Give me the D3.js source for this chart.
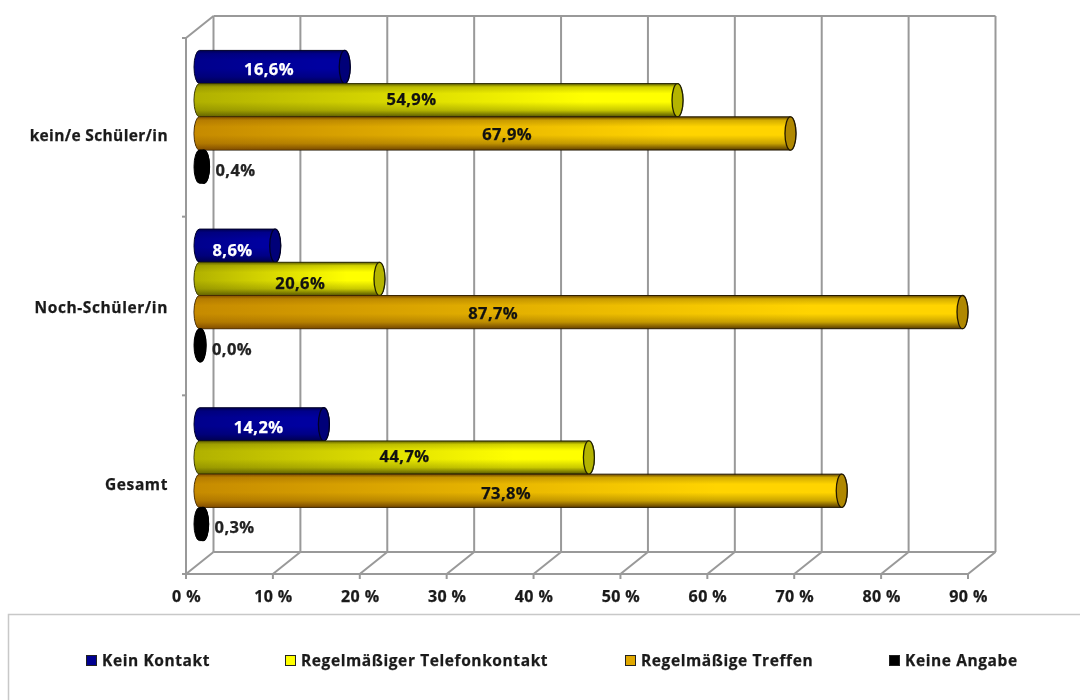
<!DOCTYPE html>
<html><head><meta charset="utf-8">
<script src="https://cdn.jsdelivr.net/npm/d3@7"></script>
<style>html,body{margin:0;padding:0;background:#fff}svg{display:block;filter:blur(0.4px)}
text{font-family:"Open Sans",sans-serif;font-weight:700;stroke-width:0.25px;paint-order:stroke}</style></head><body>
<svg id="c" width="1080" height="700"></svg>
<script>
const categories = ["kein/e Schüler/in","Noch-Schüler/in","Gesamt"];
const seriesNames = ["Kein Kontakt","Regelmäßiger Telefonkontakt","Regelmäßige Treffen","Keine Angabe"];
const keinKontakt = [16.6,8.6,14.2];
const telefon = [54.9,20.6,44.7];
const treffen = [67.9,87.7,73.8];
const keineAngabe = [0.4,0.0,0.3];
const seriesValues = [keinKontakt,telefon,treffen,keineAngabe];
const xTicks = [0,10,20,30,40,50,60,70,80,90];
// where each bar's label sits along the bar, in axis units
const labelAnchorKein = [8.0,3.8,6.8];
const labelAnchorTelefon = [24.4,11.6,23.6];
const labelAnchorTreffen = [35.4,33.8,35.3];
const labelAnchors = [labelAnchorKein,labelAnchorTelefon,labelAnchorTreffen];
const seriesColors = [
 {dark:"#000048",mid:"#0000a0",cap:"#000078",swatch:"#000090",text:"#fff",stroke:"#000028",shade:"#000050",shadeOp:0.25},
 {dark:"#4a4a00",mid:"#ffff00",cap:"#b4b400",swatch:"#ffff00",text:"#111",stroke:"#222200",shade:"#707000",shadeOp:0.55},
 {dark:"#4f3300",mid:"#ffd400",cap:"#b08800",swatch:"#e0a800",text:"#111",stroke:"#221800",shade:"#a05a00",shadeOp:0.6},
 {dark:"#000",mid:"#000",cap:"#000",swatch:"#000",text:"#222",stroke:"#000",shade:"#000",shadeOp:0}
];
const legendX = [86,285,625,889];
const labelDy = [[2,-1,1.5,3.5],[4.5,5,1,4.5],[3.5,-1.5,2.5,3.5]];
const categoryDy = [19,12,11];

const svg = d3.select("#c");
const x = d3.scaleLinear().domain([0,90]).range([186,968]);
const depthX = 27.5, depthY = -22;
const yOuter = d3.scaleBand().domain(categories).range([38,574]);
const yBand = d3.scaleBand().domain(categories).range([27.5,563.5]);
const yInner = d3.scaleBand().domain(d3.range(4)).range([0,yBand.bandwidth()]).paddingOuter(0.69).paddingInner(0);
const grid="#999";

const defs = svg.append("defs");
seriesColors.forEach((c,i)=>{
  const g = defs.append("linearGradient").attr("id","g"+i).attr("x1",0).attr("x2",0).attr("y1",0).attr("y2",1);
  const mix=t=>d3.interpolateRgb(c.dark,c.mid)(t);
  [[0,mix(0.1)],[0.1,mix(0.75)],[0.3,c.mid],[0.55,c.mid],[0.8,mix(0.7)],[1,mix(0.05)]]
    .forEach(s=>g.append("stop").attr("offset",s[0]).attr("stop-color",s[1]));
  const h = defs.append("linearGradient").attr("id","h"+i).attr("x1",0).attr("x2",1).attr("y1",0).attr("y2",0);
  h.append("stop").attr("offset",0).attr("stop-color",c.shade).attr("stop-opacity",c.shadeOp);
  h.append("stop").attr("offset",0.8).attr("stop-color",c.shade).attr("stop-opacity",0);
});

const wall = svg.append("g").attr("fill","none").attr("stroke",grid).attr("stroke-width",2);
const yTop = yOuter.range()[0], yBot = yOuter.range()[1];
xTicks.forEach(t=>{
  wall.append("line").attr("x1",x(t)+depthX).attr("x2",x(t)+depthX).attr("y1",yTop+depthY).attr("y2",yBot+depthY);
  wall.append("line").attr("x1",x(t)).attr("x2",x(t)+depthX).attr("y1",yBot).attr("y2",yBot+depthY);
  wall.append("line").attr("x1",x(t)).attr("x2",x(t)).attr("y1",yBot).attr("y2",yBot+5);
});
wall.append("line").attr("x1",x(0)+depthX).attr("x2",x(90)+depthX).attr("y1",yTop+depthY).attr("y2",yTop+depthY);
wall.append("line").attr("x1",x(0)+depthX).attr("x2",x(90)+depthX).attr("y1",yBot+depthY).attr("y2",yBot+depthY);
wall.append("line").attr("x1",x(0)).attr("x2",x(0)+depthX).attr("y1",yTop).attr("y2",yTop+depthY);
wall.append("line").attr("x1",x(0)).attr("x2",x(90)).attr("y1",yBot).attr("y2",yBot);
wall.append("line").attr("x1",x(0)).attr("x2",x(0)).attr("y1",yTop).attr("y2",yBot);
[...categories.map(c=>yOuter(c)),yBot].forEach(v=>wall.append("line").attr("x1",x(0)-4).attr("x2",x(0)).attr("y1",v).attr("y2",v));

svg.append("g").selectAll("text").data(xTicks).join("text")
  .attr("x",d=>x(d)+0.5).attr("y",602).attr("text-anchor","middle").attr("font-size",16).attr("letter-spacing",0.4)
  .attr("fill","#1a1a1a").attr("stroke","#1a1a1a")
  .text(d=>d+" %");

svg.append("g").selectAll("text").data(categories).join("text")
  .attr("x",168).attr("y",(d,i)=>yBand(d)+yBand.bandwidth()/2+categoryDy[i]+5).attr("text-anchor","end")
  .attr("font-size",15.5).attr("letter-spacing",(d,i)=>i===0?0.35:0.6).attr("fill","#1a1a1a").attr("stroke","#1a1a1a")
  .text(d=>d);

const fmt = v=>v.toFixed(1).replace(".",",")+"%";
const x0 = x(0)+13.5, rx = 5.5, capShift = 1;
const w = v=>x(v)-x(0);
categories.forEach((cat,ci)=>{
  const g = svg.append("g");
  seriesValues.forEach((vals,si)=>{
    const v = vals[ci], c = seriesColors[si];
    const top = yBand(cat)+yInner(si), h = yInner.bandwidth(), ry=h/2, end=x0+w(v)+capShift;
    const d = `M${x0},${top}L${end},${top}A${rx},${ry} 0 0 1 ${end},${top+h}L${x0},${top+h}A${rx},${ry} 0 0 1 ${x0},${top}Z`;
    g.append("path").attr("d",d).attr("fill",`url(#g${si})`).attr("stroke",c.stroke).attr("stroke-width",1);
    g.append("path").attr("d",d).attr("fill",`url(#h${si})`);
    g.append("ellipse").attr("cx",end).attr("cy",top+ry).attr("rx",rx).attr("ry",ry)
      .attr("fill",c.cap).attr("stroke",c.stroke).attr("stroke-width",1.3);
  });
  seriesValues.forEach((vals,si)=>{
    const v = vals[ci], c = seriesColors[si];
    const top = yBand(cat)+yInner(si), h = yInner.bandwidth(), end=x0+w(v);
    const small = si===3;
    g.append("text").attr("x",small?end+rx+7:x0+w(labelAnchors[si][ci]))
      .attr("y",top+h/2+labelDy[ci][si]+5.5)
      .attr("text-anchor",small?"start":"middle").attr("font-size",16.5).attr("letter-spacing",0.4)
      .attr("fill",c.text).attr("stroke",c.text).text(fmt(v));
  });
});

svg.append("rect").attr("x",8.5).attr("y",614.5).attr("width",1100).attr("height",120).attr("fill","none").attr("stroke","#c8c8c8").attr("stroke-width",1.5);
const lg = svg.append("g").selectAll("g").data(seriesNames).join("g").attr("transform",(d,i)=>`translate(${legendX[i]},0)`);
lg.append("rect").attr("x",0.5).attr("y",655.5).attr("width",10).attr("height",10)
  .attr("fill",(d,i)=>seriesColors[i].swatch).attr("stroke","#222");
lg.append("text").attr("x",16).attr("y",666).attr("font-size",15.5).attr("letter-spacing",0.6)
  .attr("fill","#1a1a1a").attr("stroke","#1a1a1a").text(d=>d);
</script></body></html>
